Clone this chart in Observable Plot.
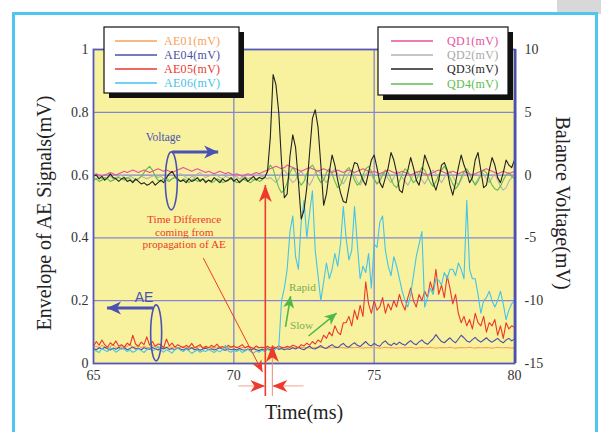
<!DOCTYPE html>
<html><head><meta charset="utf-8">
<script src="https://cdn.jsdelivr.net/npm/d3@7"></script>
<script src="https://cdn.jsdelivr.net/npm/@observablehq/plot@0.6"></script>
<style>body{margin:0;background:#fff;} #chart{width:601px;height:432px;overflow:hidden}</style>
</head><body><div id="chart"></div>
<script>
// ---- sampling ----
const T0 = 65, DT = 0.1;
const xTicks = [65, 70, 75, 80];
const yTicks = [0, 0.2, 0.4, 0.6, 0.8, 1];
const rightTicks = [-15, -10, -5, 0, 5, 10];
// right axis (mV) -> left axis mapping
const QD_ZERO = 0.6, QD_PER_MV = 0.04;

// ---- AE envelopes (mV, left axis) ----
const ae01 = [.052,.055,.05,.058,.053,.049,.054,.06,.052,.05,
.056,.051,.054,.062,.05,.053,.057,.05,.055,.052,
.05,.058,.053,.049,.055,.052,.05,.054,.051,.053,
.05,.052,.055,.05,.053,.049,.052,.05,.054,.051,
.053,.05,.052,.049,.051,.054,.05,.052,.05,.053,
.05,.052,.049,.051,.05,.053,.05,.048,.05,.051,
.05,.049,.051,.05,.052,.05,.049,.051,.05,.052,
.05,.051,.049,.05,.052,.05,.051,.049,.05,.051,
.05,.052,.05,.049,.051,.05,.05,.052,.05,.051,
.049,.05,.051,.05,.052,.05,.049,.051,.05,.05,
.051,.05,.049,.05,.052,.05,.051,.05,.049,.05,
.05,.051,.05,.052,.05,.049,.05,.051,.05,.05,
.052,.05,.049,.05,.051,.05,.05,.052,.05,.049,
.05,.051,.05,.05,.052,.05,.049,.051,.05,.05,
.051,.05,.049,.05,.052,.05,.05,.051,.05,.049,.05];
const ae04 = [.048,.044,.05,.046,.052,.047,.043,.049,.045,.051,
.046,.05,.044,.048,.053,.046,.049,.044,.05,.047,
.045,.051,.047,.043,.049,.046,.052,.045,.048,.044,
.05,.046,.043,.048,.045,.05,.044,.047,.042,.046,
.049,.044,.047,.043,.046,.05,.045,.042,.047,.044,
.046,.043,.048,.044,.042,.046,.043,.047,.044,.041,
.045,.043,.047,.044,.046,.05,.045,.048,.044,.047,
.045,.05,.046,.052,.047,.044,.05,.055,.048,.046,
.052,.057,.05,.048,.055,.06,.053,.05,.058,.064,
.055,.052,.06,.066,.058,.054,.062,.07,.06,.056,
.064,.058,.055,.066,.072,.062,.057,.065,.06,.068,
.062,.058,.066,.073,.064,.06,.069,.075,.066,.061,
.07,.078,.092,.08,.07,.066,.074,.082,.072,.066,
.078,.09,.082,.072,.068,.076,.083,.074,.068,.075,
.082,.073,.068,.074,.08,.071,.066,.075,.08,.072,.078];
const ae05 = [.055,.07,.058,.075,.06,.052,.066,.058,.072,.055,
.06,.052,.065,.058,.09,.062,.055,.068,.06,.085,
.058,.07,.055,.062,.06,.05,.078,.056,.065,.052,
.06,.055,.05,.058,.052,.064,.05,.055,.06,.048,
.055,.05,.058,.052,.062,.05,.054,.049,.058,.052,
.056,.05,.054,.06,.05,.055,.052,.048,.056,.05,
.052,.05,.055,.049,.053,.05,.056,.052,.05,.055,
.052,.058,.055,.05,.06,.056,.065,.058,.07,.062,
.075,.068,.09,.08,.1,.088,.12,.1,.092,.13,
.13,.15,.12,.17,.14,.185,.15,.26,.19,.16,
.2,.17,.18,.21,.16,.19,.17,.2,.18,.22,
.19,.17,.21,.24,.2,.18,.22,.2,.23,.21,
.26,.23,.3,.22,.25,.21,.28,.24,.19,.22,
.16,.13,.15,.12,.14,.11,.16,.13,.12,.15,
.1,.13,.12,.14,.09,.12,.08,.13,.11,.12,.115];
const ae06 = [.045,.04,.035,.048,.042,.038,.05,.044,.036,.042,
.05,.045,.038,.043,.036,.04,.047,.041,.035,.044,
.048,.04,.045,.055,.042,.036,.044,.039,.033,.045,
.05,.042,.038,.046,.04,.032,.038,.043,.036,.041,
.038,.045,.04,.035,.042,.037,.044,.058,.04,.036,
.042,.038,.044,.035,.04,.045,.038,.033,.04,.036,
.042,.038,.045,.04,.036,.048,.05,.2,.24,.3,
.42,.47,.34,.3,.45,.52,.4,.48,.55,.36,
.28,.2,.26,.32,.27,.3,.35,.31,.38,.5,
.4,.33,.36,.5,.38,.27,.31,.29,.35,.24,
.38,.37,.45,.47,.36,.31,.28,.34,.31,.27,
.23,.2,.18,.22,.28,.34,.38,.42,.18,.21,
.24,.22,.27,.265,.25,.29,.27,.3,.3,.28,
.32,.3,.27,.52,.3,.27,.27,.22,.16,.2,
.21,.23,.2,.18,.2,.23,.19,.14,.17,.19,.2];

// ---- Balance voltages (mV, right axis) ----
const qd1 = [0.0,0.1,0.0,-0.1,0.0,0.1,0.2,0.1,0.0,0.1,
0.2,0.3,0.2,0.3,0.4,0.3,0.2,0.3,0.4,0.3,
0.2,0.3,0.4,0.5,0.4,0.3,0.4,0.3,0.2,0.3,
0.4,0.5,0.6,0.5,0.4,0.3,0.4,0.5,0.4,0.3,
0.2,0.3,0.2,0.1,0.2,0.3,0.2,0.1,0.2,0.1,
0.0,0.1,0.0,-0.1,0.0,0.1,0.0,0.1,0.2,0.1,
0.2,0.3,0.4,0.5,0.6,0.7,0.6,0.5,0.6,0.8,
0.7,0.6,0.5,0.4,0.3,0.4,0.5,0.6,0.5,0.4,
0.3,0.4,0.5,0.4,0.3,0.2,0.3,0.4,0.3,0.2,
0.3,0.4,0.3,0.2,0.3,0.4,0.5,0.4,0.3,0.2,
0.3,0.2,0.1,0.2,0.3,0.4,0.3,0.2,0.1,0.2,
0.3,0.2,0.1,0.0,0.1,0.2,0.3,0.2,0.1,0.0,
0.1,0.2,0.3,0.4,0.3,0.2,0.1,0.2,0.3,0.2,
0.1,0.2,0.3,0.2,0.1,0.0,0.1,0.2,0.3,0.4,
0.5,0.4,0.3,0.2,0.1,0.2,0.3,0.2,0.1,0.2,0.3];
const qd2 = [-0.2,-0.3,-0.1,-0.3,-0.4,-0.2,-0.1,-0.3,-0.2,-0.1,
0.0,-0.2,-0.3,-0.1,-0.2,-0.4,-0.3,-0.1,-0.2,-0.3,
-0.2,-0.1,0.0,-0.2,-0.1,-0.3,-0.2,-0.4,-0.3,-0.1,
0.0,0.1,0.0,-0.2,-0.3,-0.1,-0.2,0.1,0.2,0.0,
-0.2,-0.1,0.0,0.1,0.0,-0.2,-0.3,-0.1,-0.2,-0.3,
-0.2,-0.1,-0.3,-0.2,-0.1,-0.3,-0.2,-0.4,-0.3,-0.2,
-0.1,-0.2,-0.3,-0.2,-0.4,-0.6,-0.3,0.2,0.4,0.1,
-0.3,-0.6,-0.4,0.1,0.3,0.0,-0.5,-0.8,-0.4,0.2,
0.4,0.1,-0.3,-0.6,-0.2,0.3,0.5,0.1,-0.4,-0.7,
-0.3,0.2,0.4,0.0,-0.5,-0.8,-0.4,0.1,0.3,0.0,
-0.4,-0.7,-0.3,0.2,0.1,-0.3,-0.6,-0.2,0.3,0.2,
-0.2,-0.5,-0.8,-0.4,0.1,0.3,0.0,-0.4,-0.7,-0.3,
0.2,0.4,0.1,-0.3,-0.6,-0.2,0.2,0.3,-0.1,-0.5,
-0.8,-0.4,0.1,0.3,0.0,-0.4,-0.7,-0.3,0.2,0.1,
-0.3,-0.6,-0.2,0.1,-0.4,-0.9,-1.2,-1.0,-0.5,-0.2,0.0];
const qd3 = [-0.1,0.0,-0.3,-0.1,-0.4,-0.2,0.1,-0.2,-0.3,-0.5,
-0.3,-0.2,-0.5,-0.4,-0.6,-0.3,-0.5,-0.7,-0.6,-0.8,
-0.7,-0.5,-0.8,-0.6,-0.4,-0.6,-0.2,0.1,0.3,-0.1,
-0.3,-0.5,-0.4,-0.6,-0.3,-0.5,-0.4,-0.2,-0.5,-0.3,
-0.6,-0.4,-0.5,-0.2,-0.4,-0.6,-0.3,-0.5,-0.4,-0.2,
-0.5,-0.3,-0.6,-0.4,-0.2,-0.5,-0.3,-0.1,-0.4,-0.2,
-0.3,-0.2,0.3,3.0,8.0,7.2,5.0,1.0,-1.8,-1.5,
1.5,3.2,2.2,-0.5,-3.5,-2.8,-1.0,1.8,4.5,5.2,
3.8,0.8,-2.4,-1.5,0.2,1.6,0.8,-0.4,-1.4,-2.1,
-2.2,-1.0,0.2,1.0,0.9,0.2,-0.4,-0.8,0.2,1.2,
1.6,0.6,-0.6,-1.0,-0.2,0.6,1.8,1.2,0.2,-1.2,
-1.4,-0.2,0.4,1.4,0.6,-0.4,-0.8,0.2,1.6,1.0,
0.4,-0.6,-1.2,-0.4,0.8,1.0,0.4,-0.8,-1.6,-0.6,
0.6,1.6,0.8,0.2,-0.6,-0.2,1.2,1.8,0.4,-1.0,
-0.8,0.4,1.4,0.8,-0.2,-0.6,0.2,1.2,0.8,0.6,1.2];
const qd4 = [-0.4,-0.3,-0.5,-0.4,-0.2,-0.3,-0.5,-0.4,-0.3,-0.2,
-0.3,-0.4,-0.2,-0.3,-0.5,-0.4,-0.3,-0.1,0.2,0.5,
0.7,0.4,-0.1,-0.4,-0.5,-0.3,-0.4,-0.5,-0.3,-0.2,
-0.4,-0.5,-0.3,-0.4,-0.6,-0.4,-0.3,-0.5,-0.4,-0.3,
-0.5,-0.4,-0.6,-0.5,-0.3,-0.4,-0.6,-0.5,-0.4,-0.3,
-0.4,-0.6,-0.5,-0.3,-0.4,-0.5,-0.6,-0.4,-0.3,-0.5,
-0.4,-0.2,0.3,0.8,0.5,-0.3,-1.0,-1.4,-1.2,-0.6,
0.2,0.6,0.3,-0.4,-0.8,-0.5,0.1,0.6,0.8,0.4,
-0.2,-0.6,-0.4,0.2,0.5,0.1,-0.5,-1.0,-0.8,-0.2,
0.4,0.6,0.2,-0.4,-0.8,-0.6,0.0,0.5,0.7,0.3,
-0.3,-0.7,-0.5,0.0,0.4,0.2,-0.3,-0.8,-1.0,-0.5,
0.1,0.5,0.3,-0.2,-0.6,-0.4,0.1,0.6,0.4,-0.1,
-0.6,-0.9,-0.5,0.0,0.4,0.7,0.3,-0.2,-0.7,-1.1,
-0.8,-0.2,0.3,0.5,0.1,-0.4,-0.8,-0.5,0.0,0.4,
0.2,-0.3,-0.8,-1.1,-1.2,-0.9,-0.4,0.0,0.2,-0.1,-0.3];

const aeNames = ["AE01(mV)", "AE04(mV)", "AE05(mV)", "AE06(mV)"];
const aeColors = ["#f7a05b", "#4b4fa3", "#e8392b", "#45c3ea"];
const qdNames = ["QD1(mV)", "QD2(mV)", "QD3(mV)", "QD4(mV)"];
const qdColors = ["#e8509c", "#b3b3b3", "#222222", "#5cbd4c"];
const qdTextColors = ["#e8509c", "#a8a8a8", "#222222", "#5cbd4c"];

const aeSeries = [ae01, ae04, ae05, ae06];
const qdSeries = [qd1, qd2, qd3, qd4];

const rows = [];
aeSeries.forEach((vals, k) => vals.forEach((v, i) => rows.push({name: aeNames[k], t: T0 + i * DT, y: v})));
qdSeries.forEach((vals, k) => vals.forEach((v, i) => rows.push({name: qdNames[k], t: T0 + i * DT, y: QD_ZERO + v * QD_PER_MV})));

// annotation anchors (data units)
const ann = {
  voltageText: {t: 67.5, v: 0.72},
  voltageEllipse: {t: 67.79, v: 0.58},
  voltageArrow: {t1: 67.82, t2: 69.46, v: 0.672},
  aeText: {t: 66.82, v: 0.21},
  aeEllipse: {t: 67.25, v: 0.096},
  aeArrow: {t1: 67.14, t2: 65.5, v: 0.175},
  diffText: {t: 68.25, v: [0.459, 0.417, 0.378]},
  diffArrow: {t1: 68.93, v1: 0.334, t2: 71.04, v2: -0.029},
  mark1: {t: 71.14, top: 0.567, bottom: -0.105},
  mark2: {t: 71.39, top: 0.057, bottom: -0.105},
  gap: {v: -0.073, left: 70.18, right: 72.5},
  rapidText: {t: 72.46, v: 0.242},
  rapidArrow: {t1: 71.86, v1: 0.115, t2: 72.04, v2: 0.213},
  slowText: {t: 72.43, v: 0.121},
  slowArrow: {t1: 72.68, v1: 0.086, t2: 73.68, v2: 0.159}
};

const order = ["AE01(mV)", "AE04(mV)", "AE05(mV)", "AE06(mV)", "QD2(mV)", "QD4(mV)", "QD1(mV)", "QD3(mV)"];
const colorOf = Object.fromEntries([...aeNames.map((n, i) => [n, aeColors[i]]), ...qdNames.map((n, i) => [n, qdColors[i]])]);

const plot = Plot.plot({
  width: 601, height: 432,
  marginLeft: 93, marginRight: 87, marginTop: 49, marginBottom: 69,
  style: {background: "transparent", fontFamily: "'Liberation Serif', 'Times New Roman', serif", fontSize: "14px", color: "#333"},
  x: {domain: [65, 80]},
  y: {domain: [0, 1]},
  marks: [
    Plot.frame({fill: "#f8f29e"}),
    Plot.gridX(xTicks.slice(1, -1), {stroke: "#8286d4", strokeOpacity: 1, strokeWidth: 1.3}),
    Plot.gridY(yTicks.slice(1, -1), {stroke: "#8286d4", strokeOpacity: 1, strokeWidth: 1.3}),
    ...order.map(n => Plot.line(rows.filter(r => r.name === n), {x: "t", y: "y", stroke: colorOf[n], strokeWidth: 1.1})),
    Plot.frame({stroke: "#5558b8", strokeWidth: 1.8}),
    Plot.axisX(xTicks, {tickSize: 0, tickPadding: 7, label: null, fontSize: 14}),
    Plot.axisY(yTicks, {anchor: "left", tickSize: 0, tickPadding: 5, label: null, fontSize: 14, tickFormat: d => String(+d.toFixed(1))}),
    Plot.axisY(rightTicks.map(v => QD_ZERO + v * QD_PER_MV), {anchor: "right", tickSize: 0, tickPadding: 10, label: null, fontSize: 14,
      tickFormat: d => String(Math.round((d - QD_ZERO) / QD_PER_MV))})
  ]
});
document.getElementById("chart").appendChild(plot);

const svg = d3.select(plot);
const sx = plot.scale("x"), sy = plot.scale("y");
const X = t => sx.apply(t), Y = v => sy.apply(v);
const serif = "'Liberation Serif', 'Times New Roman', serif";

// page frame behind everything
const back = svg.insert("g", ":first-child");
back.append("rect").attr("x", 557).attr("y", 0).attr("width", 44).attr("height", 14).attr("fill", "#d8d8d8");
back.append("rect").attr("x", 13.5).attr("y", 13.5).attr("width", 583).attr("height", 440)
  .attr("fill", "#fff").attr("stroke", "#4fc6ef").attr("stroke-width", 3);

// right edge shading of the plot frame
svg.append("line").attr("x1", X(80) + 1.5).attr("x2", X(80) + 1.5).attr("y1", Y(1)).attr("y2", Y(0))
  .attr("stroke", "#4a4fa8").attr("stroke-width", 2);

const g = svg.append("g").attr("text-anchor", "start");
function head(x1, y1, x2, y2, L, W, color) {
  const dx = x2 - x1, dy = y2 - y1, len = Math.hypot(dx, dy), ux = dx / len, uy = dy / len;
  const bx = x2 - ux * L, by = y2 - uy * L, nx = x2 - ux * L * 0.72, ny = y2 - uy * L * 0.72;
  g.append("path").attr("d", `M${x2},${y2}L${bx - uy * W},${by + ux * W}L${nx},${ny}L${bx + uy * W},${by - ux * W}Z`).attr("fill", color);
}
function arrow(x1, y1, x2, y2, color, w, L, W, lineColor) {
  g.append("line").attr("x1", x1).attr("y1", y1).attr("x2", x2).attr("y2", y2)
    .attr("stroke", lineColor || color).attr("stroke-width", w);
  head(x1, y1, x2, y2, L, W, color);
}
const blue = "#4a52b3", red = "#ee3a2c", green = "#4fb848";

// Voltage group
g.append("text").attr("x", X(ann.voltageText.t)).attr("y", Y(ann.voltageText.v)).attr("dy", "0.35em")
  .attr("text-anchor", "middle").attr("fill", blue).attr("font-family", serif).attr("font-size", 11.5).text("Voltage");
g.append("ellipse").attr("cx", X(ann.voltageEllipse.t)).attr("cy", Y(ann.voltageEllipse.v)).attr("rx", 6).attr("ry", 29)
  .attr("fill", "none").attr("stroke", blue).attr("stroke-width", 1.6);
arrow(X(ann.voltageArrow.t1), Y(ann.voltageArrow.v), X(ann.voltageArrow.t2), Y(ann.voltageArrow.v), blue, 3, 14, 6.5);

// AE group
g.append("text").attr("x", X(ann.aeText.t)).attr("y", Y(ann.aeText.v)).attr("dy", "0.35em")
  .attr("text-anchor", "middle").attr("fill", blue).attr("font-family", "'Liberation Sans', Arial, sans-serif").attr("font-size", 14).text("AE");
g.append("ellipse").attr("cx", X(ann.aeEllipse.t)).attr("cy", Y(ann.aeEllipse.v)).attr("rx", 5.5).attr("ry", 28)
  .attr("fill", "none").attr("stroke", blue).attr("stroke-width", 1.6);
arrow(X(ann.aeArrow.t1), Y(ann.aeArrow.v), X(ann.aeArrow.t2), Y(ann.aeArrow.v), blue, 3, 14, 6.5);

// Time difference annotation
["Time Difference", "coming from", "propagation of AE"].forEach((s, i) => {
  g.append("text").attr("x", X(ann.diffText.t)).attr("y", Y(ann.diffText.v[i])).attr("dy", "0.35em")
    .attr("text-anchor", "middle").attr("fill", red).attr("font-family", serif).attr("font-size", 11.3).text(s);
});
arrow(X(ann.diffArrow.t1), Y(ann.diffArrow.v1), X(ann.diffArrow.t2), Y(ann.diffArrow.v2), red, 1, 12, 5);
arrow(X(ann.mark1.t), Y(ann.mark1.bottom), X(ann.mark1.t), Y(ann.mark1.top), red, 1.6, 17, 6.5);
arrow(X(ann.mark2.t), Y(ann.mark2.bottom), X(ann.mark2.t), Y(ann.mark2.top), red, 1, 17, 6.5, "#f08a7a");
arrow(X(ann.gap.left), Y(ann.gap.v), X(ann.mark1.t), Y(ann.gap.v), red, 1, 15, 6, "#f4a090");
arrow(X(ann.gap.right), Y(ann.gap.v), X(ann.mark2.t), Y(ann.gap.v), red, 1, 15, 6, "#f4a090");

// Rapid / Slow
g.append("text").attr("x", X(ann.rapidText.t)).attr("y", Y(ann.rapidText.v)).attr("dy", "0.35em")
  .attr("text-anchor", "middle").attr("fill", "#78ad55").attr("font-family", serif).attr("font-size", 11.3).text("Rapid");
g.append("text").attr("x", X(ann.slowText.t)).attr("y", Y(ann.slowText.v)).attr("dy", "0.35em")
  .attr("text-anchor", "middle").attr("fill", "#78ad55").attr("font-family", serif).attr("font-size", 11.3).text("Slow");
arrow(X(ann.rapidArrow.t1), Y(ann.rapidArrow.v1), X(ann.rapidArrow.t2), Y(ann.rapidArrow.v2), green, 1.6, 12, 5.5);
arrow(X(ann.slowArrow.t1), Y(ann.slowArrow.v1), X(ann.slowArrow.t2), Y(ann.slowArrow.v2), green, 1.6, 12, 5.5);

// legends
function legend(x0, y0, w, h, names, colors, textColors, lineX1, lineX2, textX, rowYs) {
  g.append("rect").attr("x", x0 + 5).attr("y", y0 + 5).attr("width", w).attr("height", h).attr("fill", "#111");
  g.append("rect").attr("x", x0).attr("y", y0).attr("width", w).attr("height", h).attr("fill", "#fff").attr("stroke", "#111").attr("stroke-width", 1.2);
  names.forEach((n, i) => {
    g.append("line").attr("x1", lineX1).attr("x2", lineX2).attr("y1", rowYs[i]).attr("y2", rowYs[i]).attr("stroke", colors[i]).attr("stroke-width", 1.6);
    g.append("text").attr("x", textX).attr("y", rowYs[i]).attr("dy", "0.35em").attr("text-anchor", "start").attr("fill", textColors[i])
      .attr("font-family", serif).attr("font-size", 12).attr("letter-spacing", "0.3px").text(n);
  });
}
legend(104, 27, 135, 66, aeNames, aeColors, aeColors, 115, 157, 164, [41, 55, 69, 83]);
legend(378, 27, 130, 68, qdNames, qdColors, qdTextColors, 391, 433, 447, [41, 55, 69, 84]);

// axis titles
g.append("text").attr("transform", "translate(44,213) rotate(-90)").attr("text-anchor", "middle").attr("dy", "0.35em")
  .attr("font-family", serif).attr("font-size", 20).attr("fill", "#222").text("Envelope of AE Signals(mV)");
g.append("text").attr("transform", "translate(563,203) rotate(90)").attr("text-anchor", "middle").attr("dy", "0.35em")
  .attr("font-family", serif).attr("font-size", 20).attr("fill", "#222").text("Balance Voltage(mV)");
g.append("text").attr("x", 304).attr("y", 412).attr("text-anchor", "middle").attr("dy", "0.35em")
  .attr("font-family", serif).attr("font-size", 20).attr("fill", "#222").text("Time(ms)");
</script>
</body></html>
